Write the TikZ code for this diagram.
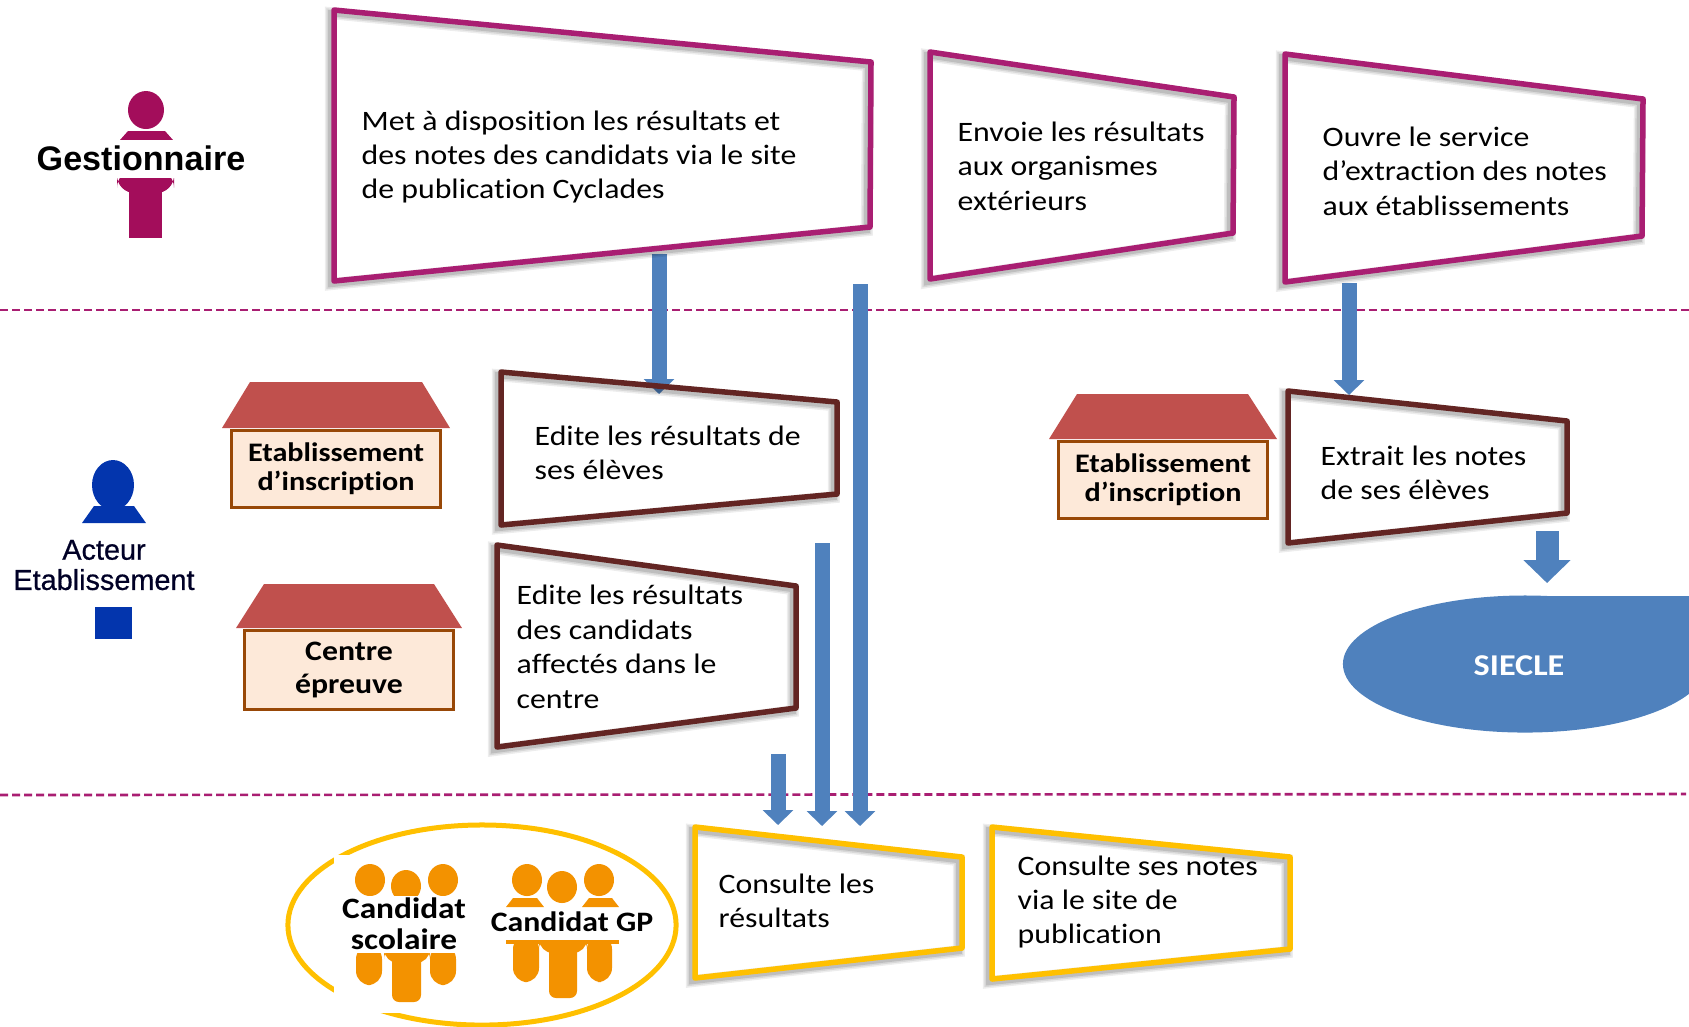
\documentclass[tikz,border=0pt]{standalone}
\usepackage{fontspec}
\setmainfont[Ligatures=NoCommon, FakeStretch=1.13]{Carlito}
\newfontfamily\iconfont{Liberation Sans}
\newfontfamily\acteurfont[FakeBold=0.6]{Liberation Sans}
\usetikzlibrary{shapes, arrows.meta, positioning}
\definecolor{magenta1}{HTML}{A91E72}
\definecolor{maroon1}{HTML}{632523}
\definecolor{yellow1}{HTML}{FFC000}
\definecolor{blue1}{HTML}{4F81BD}
\definecolor{roof1}{HTML}{C0504D}
\definecolor{wall1}{HTML}{FDE9D9}
\definecolor{wallline}{HTML}{984807}
\definecolor{gest1}{HTML}{A30D5B}
\definecolor{acteur1}{HTML}{0335AD}
\definecolor{candidat1}{HTML}{F39200}
\tikzstyle{shadowbox} = [line width=5.5*0.2845pt, line join=round,
  preaction={draw=black, draw opacity=0.07, line width=12*0.2845pt, transform canvas={xshift=-0.9pt, yshift=-0.9pt}},
  preaction={draw=black, draw opacity=0.09, line width=9*0.2845pt, transform canvas={xshift=-0.9pt, yshift=-0.9pt}},
  preaction={draw=black, draw opacity=0.12, line width=6*0.2845pt, transform canvas={xshift=-0.9pt, yshift=-0.9pt}}]
\tikzstyle{pubbox} = [shadowbox, draw=magenta1]
\tikzstyle{etabbox} = [shadowbox, draw=maroon1]
\tikzstyle{candbox} = [shadowbox, draw=yellow1]
\tikzstyle{boxtext} = [anchor=west, align=left, inner sep=0pt, font=\fontsize{8}{9.8}\selectfont]
\tikzstyle{walltext} = [draw=wallline, fill=wall1, line width=3*0.2845pt, align=center, inner sep=0pt, font=\bfseries\fontsize{7.6}{8.3}\selectfont]
\tikzstyle{sep} = [magenta1, dash pattern=on 8*0.2845pt off 4*0.2845pt, line width=2.6*0.2845pt]
\tikzstyle{flow} = [blue1, line width=15*0.2845pt, -{Triangle[length=15*0.2845pt, width=30*0.2845pt]}]
\tikzstyle{bigflow} = [blue1, line width=23*0.2845pt, -{Triangle[length=23*0.2845pt, width=46*0.2845pt]}]
\begin{document}
\begin{tikzpicture}[x=0.01cm, y=-0.01cm]
  \useasboundingbox (0,0) rectangle (1689,1026);

  % separations
  \draw[sep] (0,310) -- (1689,310);
  \draw[sep] (0,795) -- (1686,794);

  % fleches
  \coordinate (metout) at (659,254);
  \coordinate (editein) at (659,394);
  \coordinate (metout2) at (860,284);
  \coordinate (consin3) at (860,826);
  \coordinate (centreout) at (822,543);
  \coordinate (consin2) at (822,826);
  \coordinate (editeout) at (778,754);
  \coordinate (consin1) at (778,825);
  \coordinate (ouvreout) at (1349,283);
  \coordinate (extraitin) at (1349,395);
  \coordinate (extraitout) at (1547,531);
  \coordinate (sieclein) at (1547,583);
  \draw[flow] (metout) -- (editein);
  \draw[flow] (ouvreout) -- (extraitin);
  \draw[flow] (metout2) -- (consin3);
  \draw[flow] (centreout) -- (consin2);
  \draw[flow] (editeout) -- (consin1);
  \draw[bigflow] (extraitout) -- (sieclein);

  % gestionnaire
  \draw[pubbox] (334,10) -- (871,62) -- (870,227) -- (334,281) -- cycle;
  \draw[pubbox] (930,52) -- (1234,97) -- (1233,233) -- (930,279) -- cycle;
  \draw[pubbox] (1285,54) -- (1643,99) -- (1642,236) -- (1285,282) -- cycle;
  \node[boxtext] (met) at (361,157) {Met à disposition les résultats et\\des notes des candidats via le site\\de publication Cyclades};
  \node[boxtext] (envoie) at (957,166) {Envoie les résultats\\aux organismes\\extérieurs};
  \node[boxtext] (ouvre) at (1322,171) {Ouvre le service\\d’extraction des notes\\aux établissements};

  \fill[gest1] (146,110) ellipse [x radius=18, y radius=19];
  \fill[gest1] (120,140) -- (128,131) -- (165,131) -- (173,140) -- cycle;
  \fill[gest1, rounded corners=5] (117,170) -- (174,170) -- (174,193) -- (117,193) -- cycle;
  \fill[gest1] (129,185) rectangle (162,238);
  \fill[white] (30,140) rectangle (256,178);
  \node[font=\iconfont\bfseries\fontsize{9.7}{11}\selectfont] (gestionnaire) at (141,158) {Gestionnaire};

  % etablissement
  \draw[etabbox] (501,372) -- (837,402) -- (837,494) -- (501,525) -- cycle;
  \draw[etabbox] (497,545) -- (796,586) -- (796,708) -- (497,747) -- cycle;
  \draw[etabbox] (1288,391) -- (1567,421) -- (1567,513) -- (1288,543) -- cycle;
  \node[boxtext] (edite) at (534,453) {Edite les résultats de\\ses élèves};
  \node[boxtext] (editecentre) at (516,647) {Edite les résultats\\des candidats\\affectés dans le\\centre};
  \node[boxtext] (extrait) at (1320,473) {Extrait les notes\\de ses élèves};

  \fill[roof1] (250,382) -- (422,382) -- (450,428) -- (222,428) -- cycle;
  \node[walltext, minimum width=209*0.2845pt, minimum height=77*0.2845pt] (etab1) at (336,469) {Etablissement\\d’inscription};
  \fill[roof1] (264,584) -- (434,584) -- (462,628) -- (236,628) -- cycle;
  \node[walltext, minimum width=208*0.2845pt, minimum height=79*0.2845pt, font=\bfseries\fontsize{8}{9.3}\selectfont] (centre) at (349,670) {Centre\\épreuve};
  \fill[roof1] (1077,394) -- (1248,394) -- (1277,439) -- (1049,439) -- cycle;
  \node[walltext, minimum width=208*0.2845pt, minimum height=77*0.2845pt] (etab2) at (1163,480) {Etablissement\\d’inscription};

  \fill[acteur1] (113,485) ellipse [x radius=21, y radius=25];
  \fill[acteur1] (82,523) -- (94,506) -- (134,506) -- (146,523) -- cycle;
  \fill[acteur1] (95,607) rectangle (132,639);
  \node[align=center, text=black!85!blue, font=\acteurfont\fontsize{8.2}{8.6}\selectfont] (acteur) at (104,565) {Acteur\\Etablissement};

  \node[ellipse, fill=blue1, minimum width=364*0.2845pt, minimum height=137*0.2845pt, inner sep=0pt] (siecle) at (1525,664) {};
  \fill[blue1] (1525,596) rectangle (1689,664);
  \node[text=white, font=\bfseries\fontsize{8.6}{9}\selectfont] (siecletxt) at (1519,666) {SIECLE};

  % candidats
  \node[ellipse, draw=yellow1, line width=5*0.2845pt, minimum width=388*0.2845pt, minimum height=200*0.2845pt] (candidats) at (482,925) {};
  \fill[white] (334,855) rectangle (477,1013);

  \fill[candidat1] (370,880) ellipse [x radius=15, y radius=16];
  \fill[candidat1] (406,886) ellipse [x radius=15, y radius=16];
  \fill[candidat1] (443,880) ellipse [x radius=15, y radius=16];
  \fill[candidat1, rounded corners=4] (356,945) rectangle (382,985);
  \fill[candidat1, rounded corners=4] (384,945) rectangle (430,963);
  \fill[candidat1, rounded corners=2] (392,950) rectangle (421,1002);
  \fill[candidat1, rounded corners=4] (430,945) rectangle (456,985);
  \fill[white] (340,896) rectangle (470,953);
  \node[align=center, font=\bfseries\fontsize{8.4}{8.8}\selectfont] (scolaire) at (404,924) {Candidat\\scolaire};

  \fill[candidat1] (527,880) ellipse [x radius=15, y radius=16];
  \fill[candidat1] (562,887) ellipse [x radius=15, y radius=16];
  \fill[candidat1] (599,880) ellipse [x radius=15, y radius=16];
  \fill[candidat1] (506,907) -- (513,898) -- (537,898) -- (544,907) -- cycle;
  \fill[candidat1] (582,907) -- (589,898) -- (612,898) -- (619,907) -- cycle;
  \fill[candidat1] (506,940) rectangle (619,944);
  \fill[candidat1, rounded corners=4] (513,935) rectangle (539,982);
  \fill[candidat1, rounded corners=4] (539,935) rectangle (587,953);
  \fill[candidat1, rounded corners=2] (549,940) rectangle (577,998);
  \fill[candidat1, rounded corners=4] (587,935) rectangle (612,982);
  \fill[white] (500,908) rectangle (625,940);
  \node[font=\bfseries\fontsize{8}{9}\selectfont] (gp) at (572,922) {Candidat GP};

  \draw[candbox] (695,827) -- (962,857) -- (962,948) -- (695,978) -- cycle;
  \draw[candbox] (992,827) -- (1290,857) -- (1290,949) -- (992,979) -- cycle;
  \node[boxtext] (consulte) at (718,901) {Consulte les\\résultats};
  \node[boxtext] (consultenotes) at (1017,902) {Consulte ses notes\\via le site de\\publication};
\end{tikzpicture}
\end{document}
